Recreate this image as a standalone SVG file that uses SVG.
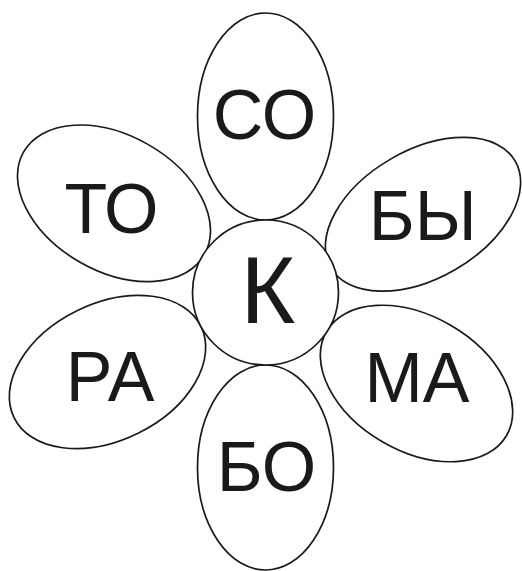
<svg xmlns="http://www.w3.org/2000/svg" width="522" height="571" viewBox="0 0 522 571">
<style>
.shape{fill:#fff;stroke:#1a1a1a;stroke-width:1.7}
.lbl{font-family:"Liberation Sans",Arial,sans-serif;font-size:70px;fill:#1a1a1a;text-anchor:middle}
.big{font-size:94px}
</style>
<rect width="522" height="571" fill="#fff"/>
<g id="connectors"/>
<g id="petal-so">
<ellipse class="shape" cx="265.5" cy="116.5" rx="68" ry="103.5"/>
<text class="lbl" x="264.5" y="139">СО</text>
</g>
<g id="petal-bo">
<ellipse class="shape" cx="265.5" cy="467.5" rx="68" ry="102.5"/>
<text class="lbl" x="266.5" y="490.5">БО</text>
</g>
<g id="petal-to">
<ellipse class="shape" cx="0" cy="0" rx="104" ry="68" transform="translate(114 203.3) rotate(29.5)"/>
<text class="lbl" x="111.5" y="233">ТО</text>
</g>
<g id="petal-by">
<ellipse class="shape" cx="0" cy="0" rx="106.5" ry="64" transform="translate(423 214.3) rotate(-30)"/>
<text class="lbl" x="422.7" y="240">БЫ</text>
</g>
<g id="petal-ra">
<ellipse class="shape" cx="0" cy="0" rx="104" ry="68.5" transform="translate(107.5 372) rotate(-26)"/>
<text class="lbl" x="110" y="401">РА</text>
</g>
<g id="petal-ma">
<ellipse class="shape" cx="0" cy="0" rx="104" ry="67.5" transform="translate(416.5 383.5) rotate(30)"/>
<text class="lbl" x="417" y="401.5">МА</text>
</g>
<g id="center-k">
<ellipse class="shape" cx="265.5" cy="292.5" rx="73" ry="72.5"/>
<text class="lbl big" x="268" y="322.5">К</text>
</g>
</svg>
